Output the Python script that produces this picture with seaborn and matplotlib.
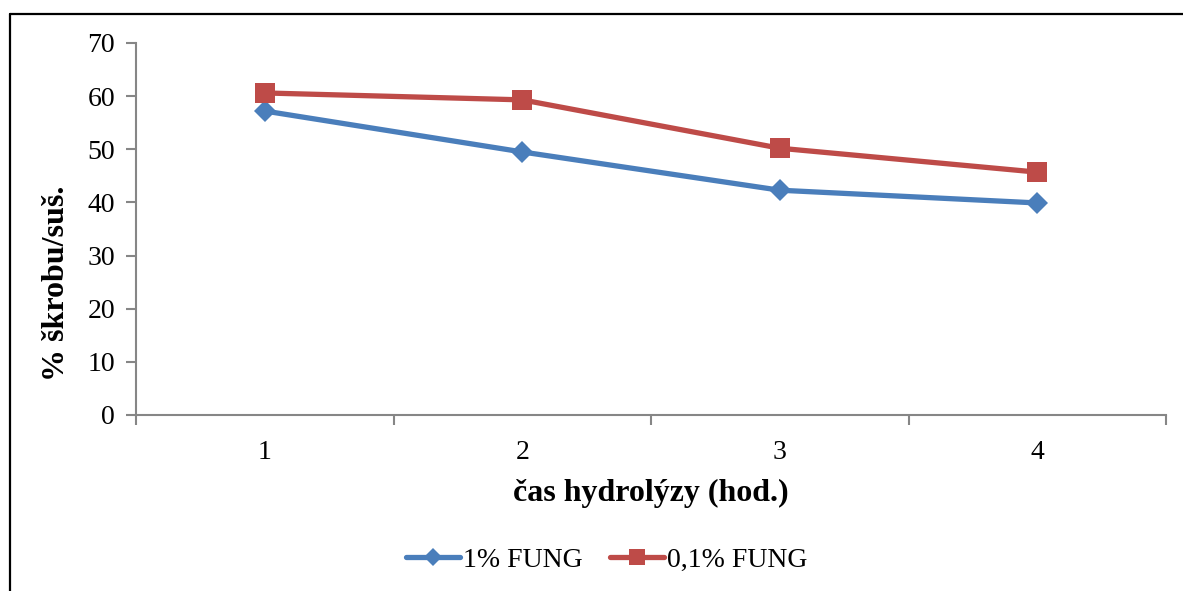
import matplotlib
matplotlib.use("Agg")
import matplotlib.pyplot as plt
from matplotlib.lines import Line2D
import seaborn as sns
import pandas as pd

# Data
hours = [1, 2, 3, 4]
fung_1 = [57.2, 49.5, 42.3, 39.9]
fung_01 = [60.6, 59.3, 50.2, 45.7]
series_names = ["1% FUNG", "0,1% FUNG"]
y_ticks = [0, 10, 20, 30, 40, 50, 60, 70]

df = pd.DataFrame({
    "hod": hours * 2,
    "val": fung_1 + fung_01,
    "serie": [series_names[0]] * 4 + [series_names[1]] * 4,
})

sns.set_style("white")
plt.rcParams["font.family"] = ["Liberation Serif", "DejaVu Serif"]
plt.rcParams["text.color"] = "black"
plt.rcParams["axes.labelcolor"] = "black"
plt.rcParams["xtick.color"] = "black"
plt.rcParams["ytick.color"] = "black"

W, H = 1183, 591
fig = plt.figure(figsize=(W / 100, H / 100), dpi=100)
ax = fig.add_axes([136 / W, 1 - 415 / H, (1166 - 136) / W, (415 - 43) / H])

colors = {"1% FUNG": "#4A7EBB", "0,1% FUNG": "#BE4B48"}
markers = {"1% FUNG": "D", "0,1% FUNG": "s"}
msize = {"1% FUNG": 11, "0,1% FUNG": 14}

for name in series_names:
    sub = df[df["serie"] == name]
    sns.lineplot(data=sub, x="hod", y="val", ax=ax, color=colors[name],
                 marker=markers[name], markersize=msize[name],
                 markeredgewidth=0, linewidth=3.8, legend=False)

ax.set_xlim(0.5, 4.5)
ax.set_ylim(0, 70)
ax.set_yticks(y_ticks)
ax.set_yticklabels([str(v) for v in y_ticks], fontsize=20)

# category labels at centers, tick marks at category boundaries
ax.set_xticks(hours)
ax.set_xticklabels([str(h) for h in hours], fontsize=20)
ax.set_xticks([0.5, 1.5, 2.5, 3.5, 4.5], minor=True)
ax.tick_params(axis="x", which="major", bottom=True, length=0, pad=18, labelcolor="black")
ax.tick_params(axis="x", which="minor", bottom=True, length=7, width=1.5,
               color="#868686", direction="out")
ax.tick_params(axis="y", which="major", left=True, length=7, width=1.5,
               color="#868686", direction="out", pad=8, labelcolor="black")

for s in ["top", "right"]:
    ax.spines[s].set_visible(False)
for s in ["left", "bottom"]:
    ax.spines[s].set_color("#868686")
    ax.spines[s].set_linewidth(1.5)

ax.set_xlabel("čas hydrolýzy (hod.)", fontsize=23, fontweight="bold", labelpad=10)
ax.set_ylabel("% škrobu/suš.", fontsize=23, fontweight="bold")
ax.yaxis.set_label_coords(-0.063, 0.355)
ax.grid(False)

handles = [
    Line2D([], [], color=colors[n], marker=markers[n], markersize=msize[n] * 0.85,
           markeredgewidth=0, linewidth=3.8)
    for n in series_names
]
fig.legend(handles, series_names, loc="center", bbox_to_anchor=(606.5 / W, 1 - 560 / H),
           ncol=2, frameon=False, fontsize=20, handlelength=1.95, handletextpad=0.1,
           columnspacing=1.0)

# chart frame
fig.add_artist(Line2D([9.5 / W, 9.5 / W], [0, 1 - 14 / H], transform=fig.transFigure,
                      color="black", linewidth=1.6))
fig.add_artist(Line2D([9.5 / W, 1], [1 - 14 / H, 1 - 14 / H], transform=fig.transFigure,
                      color="black", linewidth=1.6))

fig.savefig("out.png", dpi=100)
